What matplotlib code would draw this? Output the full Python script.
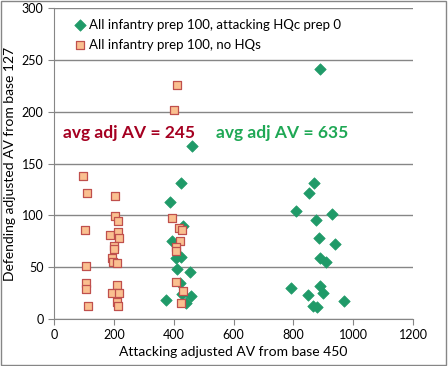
import matplotlib.pyplot as plt
from matplotlib.patches import Rectangle

plt.rcParams['font.family'] = ['Lato', 'DejaVu Sans']

# green diamonds: attacking HQc prep 0
hq_x = [424, 387, 431, 396, 424, 409, 411, 456, 420, 376, 427, 458, 442, 462,
        869, 851, 809, 928, 876, 884, 939, 888, 909, 791, 888, 848, 899, 968,
        864, 880, 890]
hq_y = [131, 113, 90, 75, 60, 59, 48, 45, 35, 18, 24, 22, 15, 167,
        131, 122, 104, 101, 96, 78, 72, 59, 55, 30, 32, 23, 25, 17,
        13, 12, 241]

# orange squares: no HQs
nohq_x = [96, 109, 102, 107, 107, 107, 113,
          203, 203, 213, 187, 213, 216, 200, 202, 193, 196, 209, 212, 194, 216, 209, 213,
          393, 418, 427, 420, 407, 409, 409, 430, 426, 411, 402]
nohq_y = [138, 122, 86, 51, 35, 29, 13,
          119, 99, 95, 81, 84, 78, 70, 68, 59, 55, 54, 33, 25, 25, 16, 13,
          97, 88, 86, 75, 69, 66, 36, 27, 15, 226, 202]

label_hq = "All infantry prep 100, attacking HQc prep 0"
label_nohq = "All infantry prep 100, no HQs"
avg_nohq = "avg adj AV = 245"
avg_hq = "avg adj AV = 635"

fig = plt.figure(figsize=(4.48, 3.66), dpi=100)
ax = fig.add_axes([0.1205, 0.1284, 0.8015, 0.8496])

gc = '#868686'
ax.scatter(hq_x, hq_y, marker='D', s=34, color='#1F9A68', edgecolors='#1F9A68',
           linewidths=0.5, label=label_hq, zorder=3)
ax.scatter(nohq_x, nohq_y, marker='s', s=36, color='#FAC090', edgecolors='#C0504D',
           linewidths=0.9, label=label_nohq, zorder=4)

ax.set_xlim(0, 1200)
ax.set_ylim(0, 300)
ax.set_xticks(range(0, 1201, 200))
ax.set_yticks(range(0, 301, 50))
ax.yaxis.grid(True, color=gc, linewidth=1)
ax.set_axisbelow(True)
for s in ['top', 'right']:
    ax.spines[s].set_visible(False)
for s in ['left', 'bottom']:
    ax.spines[s].set_color(gc)
ax.tick_params(colors=gc, labelcolor='black', labelsize=9, length=4, direction='out')

ax.set_xlabel("Attacking adjusted AV from base 450", fontsize=10, labelpad=3)
ax.set_ylabel("Defending adjusted AV from base 127", fontsize=10, labelpad=4)

ax.text(30, 179, avg_nohq, color='#A50021', fontsize=12.5, fontweight='bold', va='center')
ax.text(540, 179, avg_hq, color='#1FA855', fontsize=12.5, fontweight='bold', va='center')

leg = ax.legend(loc='upper left', bbox_to_anchor=(0.02, 1.0), frameon=True,
                fontsize=9.5, handletextpad=0.1, handlelength=1.2,
                borderpad=0.3, labelspacing=0.6)
leg.get_frame().set_edgecolor('white')
leg.get_frame().set_facecolor('white')
leg.get_frame().set_alpha(1)

fig.patches.append(Rectangle((0.003, 0.004), 0.993, 0.992, transform=fig.transFigure,
                             fill=False, edgecolor=gc, linewidth=1))

fig.savefig('out.png', dpi=100)
